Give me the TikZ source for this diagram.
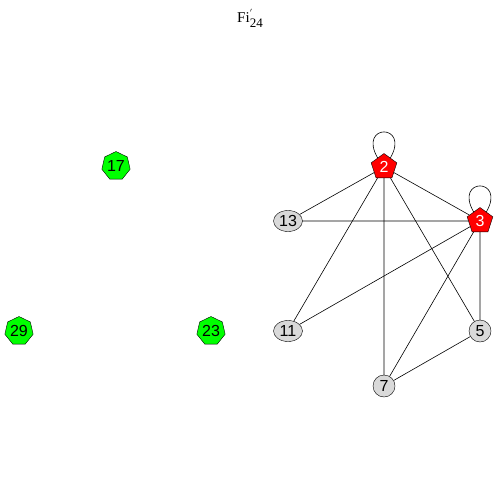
\documentclass[tikz,border=0pt]{standalone}
\usepackage{fontspec}
\setsansfont{Liberation Sans}
\setmainfont{Liberation Serif}
\usetikzlibrary{shapes.geometric}
\begin{document}
\begin{tikzpicture}[x=1pt,y=-1pt,
  lbl/.style={font=\sffamily\fontsize{16}{16}\selectfont, inner sep=0pt},
  redp/.style={lbl, regular polygon, regular polygon sides=5, fill=red, draw=black, text=white, minimum size=27pt},
  greenh/.style={lbl, regular polygon, regular polygon sides=7, fill=green, draw=black, minimum size=29pt},
  grayel/.style={lbl, ellipse, fill=black!15, draw=black, minimum width=29pt, minimum height=21pt},
  graycirc/.style={lbl, ellipse, fill=black!15, draw=black, minimum width=22pt, minimum height=22pt},
  edge/.style={draw=black, line width=0.6pt}]
\useasboundingbox (0,0) rectangle (500,500);
\node[font=\fontsize{15}{15}\selectfont, anchor=base] (title) at (250,23) {Fi\rlap{\raisebox{7pt}{\fontsize{9}{9}\selectfont$'$}}\raisebox{-5pt}{\fontsize{13}{13}\selectfont 24}};
\node[redp] (n2) at (384,167) {2};
\node[redp] (n3) at (480,221) {3};
\node[grayel] (n13) at (288,221) {13};
\node[grayel] (n11) at (288,331) {11};
\node[graycirc] (n5) at (480,331) {5};
\node[graycirc] (n7) at (384,386) {7};
\node[greenh] (n17) at (116,166) {17};
\node[greenh] (n29) at (19,331) {29};
\node[greenh] (n23) at (211,331) {23};
\path[edge] (n2) -- (n13);
\path[edge] (n2) -- (n3);
\path[edge] (n2) -- (n11);
\path[edge] (n2) -- (n7);
\path[edge] (n2) -- (n5);
\path[edge] (n3) -- (n13);
\path[edge] (n3) -- (n11);
\path[edge] (n3) -- (n7);
\path[edge] (n3) -- (n5);
\path[edge] (n5) -- (n7);
\path[edge] (n2.125) .. controls +(-120:40) and +(-60:40) .. (n2.55);
\path[edge] (n3.125) .. controls +(-120:40) and +(-60:40) .. (n3.55);
\end{tikzpicture}
\end{document}
